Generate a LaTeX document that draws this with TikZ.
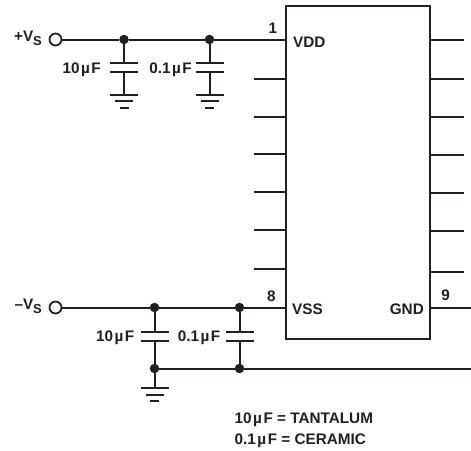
\documentclass[tikz,border=0pt]{standalone}
\usepackage{fontspec}
\setmainfont{Liberation Sans}
\usetikzlibrary{positioning}
\definecolor{ink}{HTML}{231F20}
\tikzset{
	wire/.style={line width=2pt, color=ink},
	dot/.style={circle, fill=ink, inner sep=0pt, minimum size=9.5pt},
	term/.style={circle, draw=ink, line width=1.8pt, fill=white, inner sep=0pt, minimum size=12pt},
	lbl/.style={text=ink, inner sep=0pt, font=\fontsize{15.3}{17}\selectfont\bfseries},
	capplates/.pic={
		\draw[wire] (-14,-4.5) -- (14,-4.5);
		\draw[wire] (-14,4.5) -- (14,4.5);
	},
	gnd/.pic={
		\draw[wire] (-14,0) -- (14,0);
		\draw[wire] (-9,6.5) -- (9,6.5);
		\draw[wire] (-4.5,13) -- (4.5,13);
	}
}
\newcommand{\Vs}[1]{#1V\raisebox{-3.5pt}{\fontsize{13}{14}\selectfont S}}
\newcommand{\uF}{\hspace{1.5pt}µ\hspace{1.5pt}F}
\begin{document}
\begin{tikzpicture}[x=1pt, y=-1pt]
	\useasboundingbox (0,0) rectangle (471,450);
	
	\node[draw=ink, line width=2pt, minimum width=144pt, minimum height=333pt, inner sep=0pt] (ic) at (358,172.5) {};
	
	\node[term] (vp) at (55.5,39.5) {};
	\node[term] (vm) at (55.5,307.5) {};
	\node[dot] (d1) at (124,39.5) {};
	\node[dot] (d2) at (209.5,39.5) {};
	\node[dot] (d3) at (154.5,307.5) {};
	\node[dot] (d4) at (239.5,307.5) {};
	\node[dot] (d5) at (154.5,368.5) {};
	\node[dot] (d6) at (239.5,368.5) {};
	
	\coordinate (pin1) at (ic.west |- vp);
	\coordinate (pin8) at (ic.west |- vm);
	\coordinate (pin9) at (ic.east |- vm);
	\coordinate (out9) at (471,307.5);
	\coordinate (outg) at (471,368.5);
	\coordinate (g1) at (124,94.5);
	\coordinate (g2) at (209.5,94.5);
	\coordinate (g3) at (154.5,388);
	
	\draw[wire] (vp) -- (d1) -- (d2) -- (pin1);
	\draw[wire] (vm) -- (d3) -- (d4) -- (pin8);
	\draw[wire] (pin9) -- (out9);
	\draw[wire] (d5) -- (d6) -- (outg);
	
	\draw[wire] (d1) -- (124,62.5) (124,71.5) -- (g1);
	\draw[wire] (d2) -- (209.5,62.5) (209.5,71.5) -- (g2);
	\draw[wire] (d3) -- (154.5,331.5) (154.5,340.5) -- (d5);
	\draw[wire] (d4) -- (239.5,331.5) (239.5,340.5) -- (d6);
	\draw[wire] (d5) -- (g3);
	
	\pic at (124,67) {capplates};
	\pic at (209.5,67) {capplates};
	\pic at (154.5,336) {capplates};
	\pic at (239.5,336) {capplates};
	\pic at (g1) {gnd};
	\pic at (g2) {gnd};
	\pic at (g3) {gnd};
	
	\foreach \y in {78.5,116.5,154,192,230,269}
		\draw[wire] (253.5,\y) -- (ic.west |- 0,\y);
	\foreach \y in {40,79,117,155,193,231,271.5}
		\draw[wire] (ic.east |- 0,\y) -- (464,\y);
	
	\node[lbl, left=6.5pt of vp, yshift=1pt] (vplabel) {\Vs{+}};
	\node[lbl, left=6.5pt of vm, yshift=1pt] (vmlabel) {\Vs{–}};
	\node[lbl] (n1) at (273,28) {1};
	\node[lbl] (n8) at (271.5,296) {8};
	\node[lbl] (n9) at (445.5,295.5) {9};
	\node[lbl, anchor=west] (vdd) at (293,42.5) {VDD};
	\node[lbl, anchor=west] (vss) at (292,309.5) {VSS};
	\node[lbl, anchor=east] (gnd) at (424,309.5) {GND};
	\node[lbl, anchor=east] (c1) at (101,70) {10\uF};
	\node[lbl, anchor=east] (c2) at (192,70) {0.1\uF};
	\node[lbl, anchor=east] (c3) at (134.5,338) {10\uF};
	\node[lbl, anchor=east] (c4) at (220.5,338) {0.1\uF};
	\node[lbl, anchor=west] (key1) at (234.5,419.5) {10\uF{} = TANTALUM};
	\node[lbl, anchor=west] (key2) at (234.5,441) {0.1\uF{} = CERAMIC};
\end{tikzpicture}
\end{document}
